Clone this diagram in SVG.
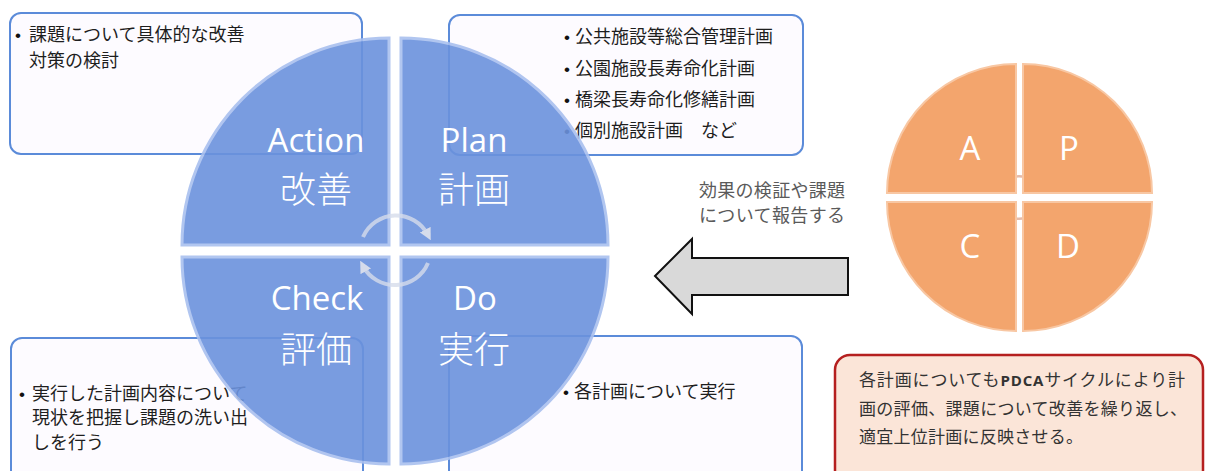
<svg xmlns="http://www.w3.org/2000/svg" width="1206" height="471" viewBox="0 0 1206 471">
<style>
.box{fill:#fdfbff;stroke:#5b8bd9;stroke-width:2}
.t{font-family:"Noto Sans CJK JP","Noto Sans",sans-serif;font-size:18px;fill:#1e1e1e}
.b{font-family:"Liberation Sans",sans-serif;font-size:17px;fill:#111}
.q{fill:#6b92dd;stroke:#a9c0ef;stroke-width:3}
.lbl{font-family:"Open Sans","Liberation Sans",sans-serif;font-size:33px;fill:#fff;text-anchor:middle}
.lblj{font-family:"Noto Sans CJK JP",sans-serif;font-size:36px;font-weight:300;fill:#fff;text-anchor:middle}
.o{fill:#f3a56d;stroke:#f8c7a3;stroke-width:2}
.ol{font-family:"Open Sans","Liberation Sans",sans-serif;font-size:33px;fill:#fff;text-anchor:middle}
.carc{fill:none;stroke:#d6dceb;stroke-width:4;stroke-opacity:0.8}
.oarc{fill:none;stroke:#e6bba9;stroke-width:2.5}
.gt{font-family:"Noto Sans CJK JP",sans-serif;font-size:18px;fill:#5a5a5a}
.rt{font-family:"Noto Sans CJK JP",sans-serif;font-size:17px;fill:#333}
</style>
<defs>
<marker id="ah" viewBox="0 0 10 10" refX="5" refY="5" markerWidth="3" markerHeight="3" orient="auto"><path d="M0,0 L10,5 L0,10 Z" fill="#d6dceb"/></marker>
<marker id="oh" viewBox="0 0 10 10" refX="5" refY="5" markerWidth="3" markerHeight="3" orient="auto"><path d="M0,0 L10,5 L0,10 Z" fill="#e6bba9"/></marker>
</defs>

<g id="box-action">
<rect class="box" x="10" y="13" width="352" height="141" rx="11"/>
<text class="t" y="41"><tspan class="b" x="15">•</tspan><tspan x="29">課題について具体的な改善</tspan></text>
<text class="t" x="29" y="67">対策の検討</text>
</g>
<g id="box-plan">
<rect class="box" x="449" y="15" width="354" height="140" rx="11"/>
<text class="t" y="43"><tspan class="b" x="564">•</tspan><tspan x="575">公共施設等総合管理計画</tspan></text>
<text class="t" y="75"><tspan class="b" x="564">•</tspan><tspan x="575">公園施設長寿命化計画</tspan></text>
<text class="t" y="106"><tspan class="b" x="564">•</tspan><tspan x="575">橋梁長寿命化修繕計画</tspan></text>
<text class="t" y="137"><tspan class="b" x="564">•</tspan><tspan x="575">個別施設計画　など</tspan></text>
</g>
<g id="box-check">
<rect class="box" x="11" y="338" width="352" height="145" rx="11"/>
<text class="t" y="400"><tspan class="b" x="19">•</tspan><tspan x="32">実行した計画内容について</tspan></text>
<text class="t" x="32" y="424">現状を把握し課題の洗い出</text>
<text class="t" x="32" y="449">しを行う</text>
</g>
<g id="box-do">
<rect class="box" x="449" y="336" width="353" height="147" rx="11"/>
<text class="t" y="398"><tspan class="b" x="563">•</tspan><tspan x="574">各計画について実行</tspan></text>
</g>

<g id="pdca-circle" opacity="0.9">
<path class="q" d="M389,245 L182,245 A207,207 0 0 1 389,38 Z"/>
<path class="q" d="M401,245 L401,38 A207,207 0 0 1 608,245 Z"/>
<path class="q" d="M401,257 L608,257 A207,207 0 0 1 401,464 Z"/>
<path class="q" d="M389,257 L389,464 A207,207 0 0 1 182,257 Z"/>
</g>
<g id="pdca-labels">
<text class="lbl" x="316" y="152">Action</text>
<text class="lblj" x="316" y="203">改善</text>
<text class="lbl" x="474" y="152">Plan</text>
<text class="lblj" x="474" y="203">計画</text>
<text class="lbl" x="317" y="310">Check</text>
<text class="lblj" x="316" y="363">評価</text>
<text class="lbl" x="475" y="310">Do</text>
<text class="lblj" x="474" y="363">実行</text>
</g>

<g id="connectors">
<path class="carc" d="M363,237 A36,36 0 0 1 428,235" marker-end="url(#ah)"/>
<path class="carc" d="M428,263 A36,36 0 0 1 363,266" marker-end="url(#ah)"/>
<polygon points="655,276 692,239 692,258 848,258 848,295 692,295 692,314" fill="#d9d9d9" stroke="#111" stroke-width="2"/>
<path class="oarc" d="M1000,190 A20,20 0 0 1 1038,190" marker-end="url(#oh)"/>
<path class="oarc" d="M1038,205 A20,20 0 0 1 1000,205" marker-end="url(#oh)"/>
</g>

<g id="arrow-label">
<text class="gt" x="699" y="197" textLength="146">効果の検証や課題</text>
<text class="gt" x="699" y="222" textLength="146">について報告する</text>
</g>

<g id="small-pdca">
<path class="o" d="M1016,193 L887,193 A129,129 0 0 1 1016,64 Z"/>
<path class="o" d="M1023,193 L1023,64 A129,129 0 0 1 1152,193 Z"/>
<path class="o" d="M1023,202 L1152,202 A129,129 0 0 1 1023,331 Z"/>
<path class="o" d="M1016,202 L1016,331 A129,129 0 0 1 887,202 Z"/>
<text class="ol" x="970" y="160">A</text>
<text class="ol" x="1069" y="160">P</text>
<text class="ol" x="970" y="258">C</text>
<text class="ol" x="1068" y="258">D</text>
</g>

<g id="note">
<rect x="835" y="355" width="368" height="130" rx="15" fill="#fbe5d8" stroke="#b51f1f" stroke-width="2.5"/>
<text class="rt" x="859" y="386" textLength="326" lengthAdjust="spacing">各計画についても<tspan font-family="Open Sans" font-weight="bold" font-size="15">PDCA</tspan>サイクルにより計</text>
<text class="rt" x="859" y="415" textLength="328" lengthAdjust="spacing">画の評価、課題について改善を繰り返し、</text>
<text class="rt" x="859" y="443" textLength="224" lengthAdjust="spacing">適宜上位計画に反映させる。</text>
</g>
</svg>
